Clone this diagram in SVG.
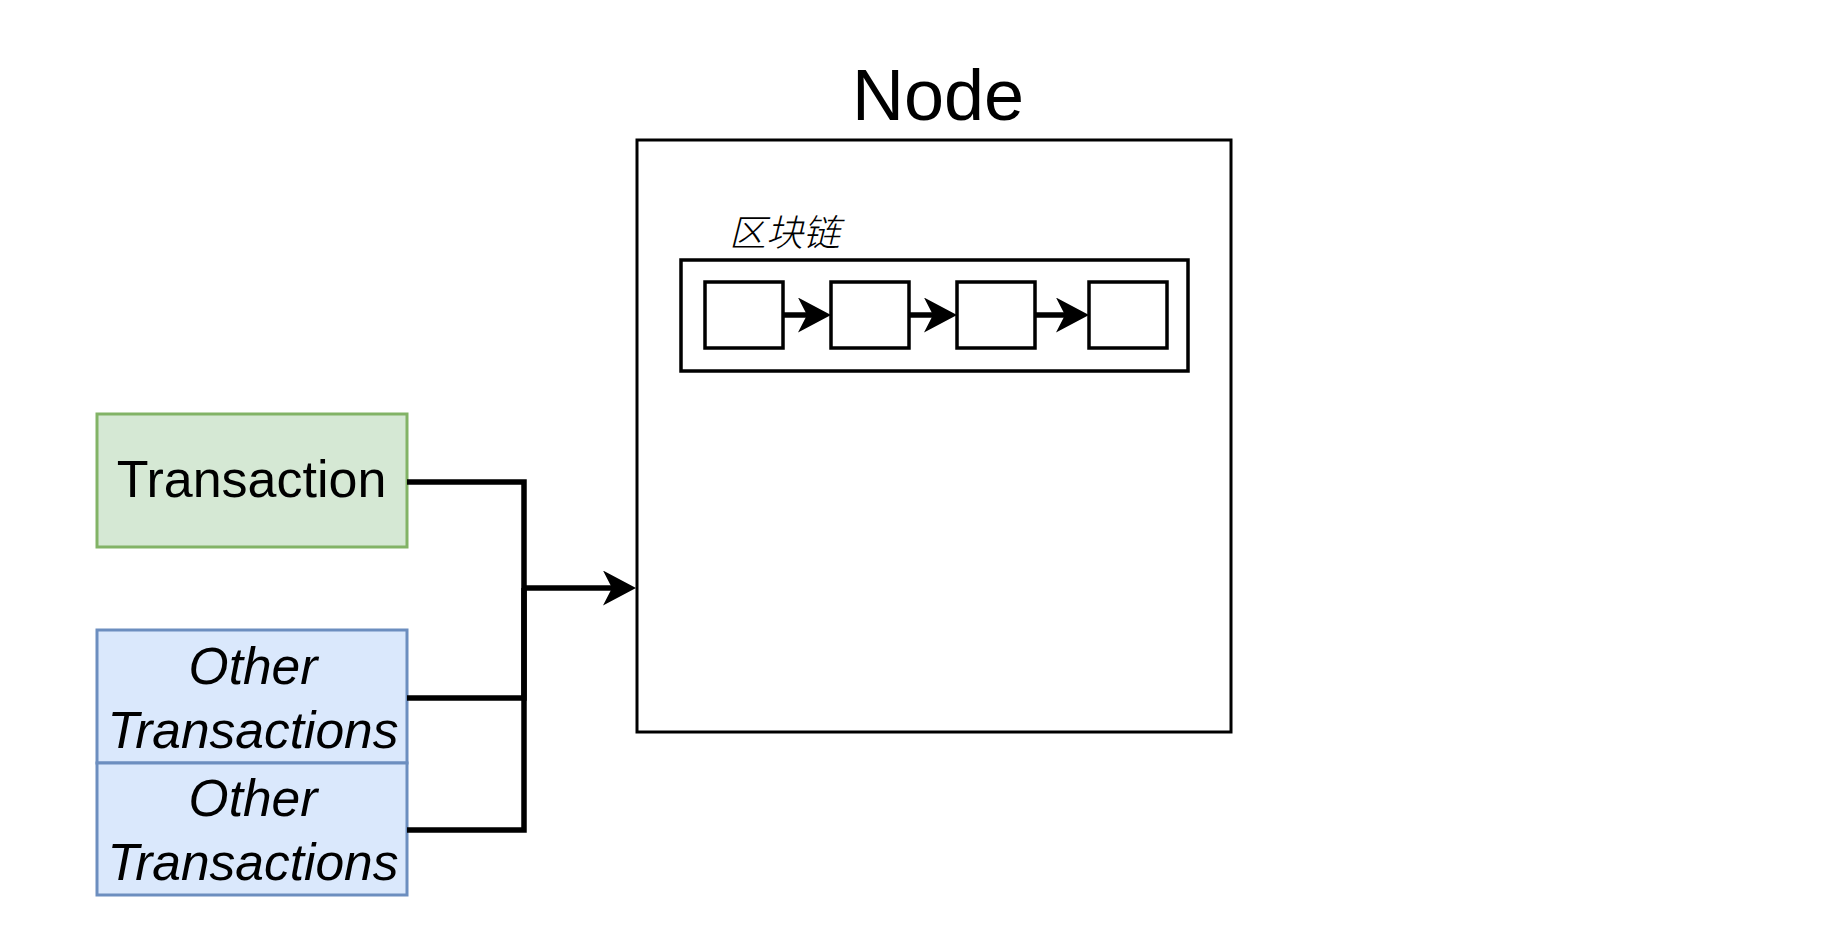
<svg xmlns="http://www.w3.org/2000/svg" width="1828" height="926" viewBox="0 0 1828 926">
<style>
.t{font-family:"Liberation Sans",Arial,sans-serif;fill:#000}
.box{fill:#fff;stroke:#000;stroke-width:3.5}
.conn{fill:none;stroke:#000;stroke-width:5.5;stroke-linejoin:miter}
</style>
<defs>
<marker id="arr" viewBox="0 0 33 35" refX="13" refY="17.5" markerWidth="33" markerHeight="35" markerUnits="userSpaceOnUse" orient="auto">
<path d="M0,0 L33,17.5 L0,35 L9,17.5 Z" fill="#000"/>
</marker>
</defs>
<rect width="1828" height="926" fill="#fff"/>
<g id="node">
<rect x="637" y="140" width="594" height="592" fill="#fff" stroke="#000" stroke-width="3"/>
<text class="t" x="938" y="120" font-size="72" text-anchor="middle">Node</text>
</g>
<g id="blockchain">
<text x="729" y="246" font-family="'Noto Sans CJK SC',sans-serif" font-size="37" font-style="italic" font-weight="300" fill="#000">区块链</text>
<rect class="box" x="681" y="260" width="507" height="111"/>
</g>
<g id="block1"><rect class="box" x="705" y="282" width="78" height="66"/></g>
<g id="block2"><rect class="box" x="831" y="282" width="78" height="66"/></g>
<g id="block3"><rect class="box" x="957" y="282" width="78" height="66"/></g>
<g id="block4"><rect class="box" x="1089" y="282" width="78" height="66"/></g>
<g id="transaction">
<rect x="97" y="414" width="310" height="133" fill="#d5e8d4" stroke="#82b366" stroke-width="3"/>
<text class="t" x="251.5" y="497" font-size="52" text-anchor="middle">Transaction</text>
</g>
<g id="other1">
<rect x="97" y="630" width="310" height="133" fill="#dae8fc" stroke="#6c8ebf" stroke-width="3"/>
<text class="t" x="253" y="684" font-size="51.5" font-style="italic" text-anchor="middle">Other</text>
<text class="t" x="253" y="748" font-size="51.5" font-style="italic" text-anchor="middle">Transactions</text>
</g>
<g id="other2">
<rect x="97" y="763" width="310" height="132" fill="#dae8fc" stroke="#6c8ebf" stroke-width="3"/>
<text class="t" x="253" y="816" font-size="51.5" font-style="italic" text-anchor="middle">Other</text>
<text class="t" x="253" y="880" font-size="51.5" font-style="italic" text-anchor="middle">Transactions</text>
</g>
<g id="connectors">
<path class="conn" d="M407,482 H524 V588"/>
<path class="conn" d="M407,698 H524 V588"/>
<path class="conn" d="M407,830 H524 V588"/>
<path class="conn" d="M524,588 H616" marker-end="url(#arr)"/>
<path class="conn" d="M783,315 H811" marker-end="url(#arr)"/>
<path class="conn" d="M909,315 H937" marker-end="url(#arr)"/>
<path class="conn" d="M1035,315 H1069" marker-end="url(#arr)"/>
</g>
</svg>
